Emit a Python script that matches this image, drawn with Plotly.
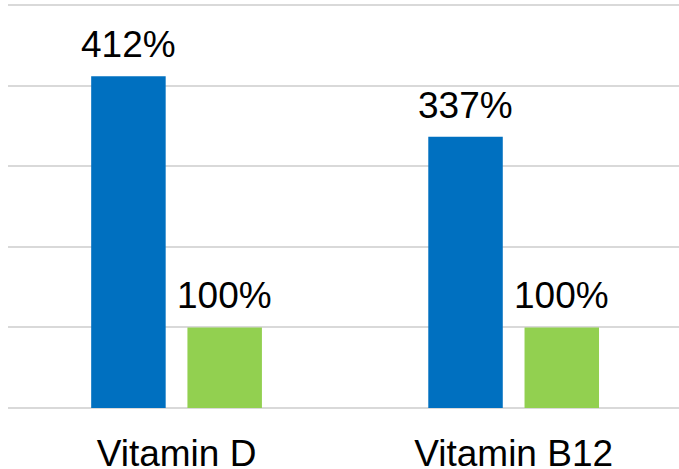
import plotly.graph_objects as go

categories = ["Vitamin D", "Vitamin B12"]
series_a = [412, 337]
series_b = [100, 100]
labels_a = ["412%", "337%"]
labels_b = ["100%", "100%"]
y_ticks = [0, 100, 200, 300, 400, 500]

FONT = "Liberation Sans, Arial, sans-serif"
BARGAP = 0.429
BARGROUPGAP = 0.226
slot = (1 - BARGAP) / 2  # width of each series slot in category units

fig = go.Figure()
fig.add_trace(go.Bar(x=categories, y=series_a,
                     marker=dict(color="#0070C0", line=dict(width=0)),
                     showlegend=False))
fig.add_trace(go.Bar(x=categories, y=series_b,
                     marker=dict(color="#92D050", line=dict(width=0)),
                     showlegend=False))

annotations = []
for series, labels, off in ((series_a, labels_a, -slot / 2), (series_b, labels_b, slot / 2)):
    for i, (v, t) in enumerate(zip(series, labels)):
        annotations.append(dict(x=i + off, y=v, xref="x", yref="y", text=t,
                                showarrow=False, yanchor="bottom", xanchor="center",
                                yshift=9, font=dict(size=37, color="black", family=FONT)))

fig.update_layout(
    width=679, height=469,
    margin=dict(l=8, r=0, t=3, b=61),
    paper_bgcolor="white", plot_bgcolor="white",
    barmode="group", bargap=BARGAP, bargroupgap=BARGROUPGAP,
    font=dict(family=FONT, color="black"),
    annotations=annotations,
)
fig.update_xaxes(range=[-0.5, 1.4905], showgrid=False, showline=False, zeroline=False,
                 automargin=False, ticks="", ticklabelstandoff=20,
                 tickfont=dict(size=37, color="black", family=FONT))
fig.update_yaxes(range=[0, 503], tickvals=y_ticks, showticklabels=False,
                 automargin=False,
                 showgrid=True, gridcolor="#d9d9d9", gridwidth=2,
                 zeroline=True, zerolinecolor="#d9d9d9", zerolinewidth=2,
                 showline=False)

fig.write_html("out.html", config={"displayModeBar": False},
               post_script="document.body.style.margin='0';document.body.style.overflow='hidden';")
